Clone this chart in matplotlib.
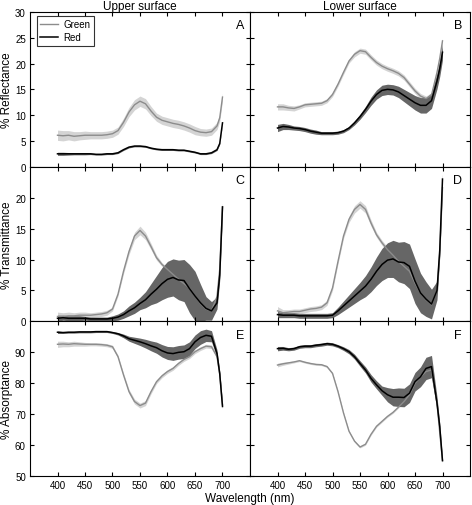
import matplotlib
matplotlib.use("Agg")
import matplotlib.pyplot as plt
import numpy as np

plt.rcParams['font.family'] = ['Liberation Sans', 'DejaVu Sans']

# ---------------- data ----------------
wavelength = [400, 410, 420, 430, 440, 450, 460, 470, 480, 490, 500, 510, 520, 530, 540,
              550, 560, 570, 580, 590, 600, 610, 620, 630, 640, 650, 660, 670, 680, 690, 695, 700]

# A: upper surface reflectance
A_green = [6.1, 6.0, 6.1, 5.9, 6.0, 6.1, 6.1, 6.1, 6.1, 6.2, 6.4, 7.0, 8.6, 10.6, 12.0,
           12.7, 12.2, 10.8, 9.6, 9.0, 8.7, 8.4, 8.2, 7.9, 7.5, 7.0, 6.7, 6.6, 6.8, 7.9, 9.5, 13.5]
A_green_err = [1.0, 1.0, 0.9, 0.9, 0.8, 0.8, 0.7, 0.7, 0.7, 0.7, 0.7, 0.7, 0.8, 0.9, 1.0,
               1.0, 1.0, 0.9, 0.8, 0.8, 0.8, 0.8, 0.8, 0.8, 0.8, 0.8, 0.7, 0.7, 0.7, 0.7, 0.7, 0.7]
A_red = [2.5, 2.5, 2.5, 2.5, 2.5, 2.5, 2.5, 2.4, 2.4, 2.5, 2.5, 2.7, 3.3, 3.8, 4.0,
         4.0, 3.9, 3.6, 3.4, 3.3, 3.3, 3.3, 3.2, 3.2, 3.0, 2.8, 2.5, 2.5, 2.7, 3.3, 4.5, 8.5]
A_red_err = [0.3, 0.3, 0.25, 0.2, 0.2, 0.2, 0.15, 0.15, 0.15, 0.15, 0.15, 0.15, 0.15, 0.15, 0.15,
             0.15, 0.15, 0.15, 0.15, 0.15, 0.15, 0.15, 0.15, 0.15, 0.15, 0.15, 0.15, 0.15, 0.15, 0.15, 0.15, 0.15]

# B: lower surface reflectance
B_green = [11.6, 11.6, 11.4, 11.3, 11.6, 12.0, 12.1, 12.2, 12.3, 12.8, 14.0, 16.0, 18.3, 20.5, 21.8,
           22.5, 22.3, 21.2, 20.2, 19.5, 19.0, 18.6, 18.1, 17.3, 16.0, 14.7, 13.7, 13.2, 13.9, 18.3, 21.0, 24.4]
B_green_err = [0.6, 0.6, 0.5, 0.5, 0.4, 0.4, 0.4, 0.4, 0.4, 0.4, 0.4, 0.4, 0.4, 0.4, 0.5,
               0.5, 0.5, 0.5, 0.5, 0.5, 0.5, 0.5, 0.5, 0.5, 0.5, 0.5, 0.5, 0.5, 0.5, 0.5, 0.5, 0.5]
B_red = [7.5, 7.8, 7.7, 7.5, 7.4, 7.2, 6.9, 6.7, 6.5, 6.5, 6.5, 6.6, 6.9, 7.5, 8.5,
         9.7, 11.1, 12.7, 14.0, 14.8, 15.0, 14.9, 14.5, 13.8, 13.1, 12.4, 11.9, 11.9, 12.8, 16.6, 19.0, 22.2]
B_red_err = [0.7, 0.6, 0.5, 0.4, 0.4, 0.4, 0.4, 0.4, 0.3, 0.3, 0.3, 0.3, 0.3, 0.3, 0.4,
             0.5, 0.6, 0.8, 0.9, 1.0, 1.0, 1.0, 1.1, 1.2, 1.3, 1.4, 1.5, 1.5, 1.5, 1.5, 1.5, 1.5]

# C: upper surface transmittance
C_green = [0.8, 0.8, 0.9, 0.9, 1.0, 1.0, 1.0, 1.1, 1.2, 1.4, 2.0, 4.4, 8.1, 11.3, 13.8,
           14.7, 13.8, 12.1, 10.3, 9.2, 8.4, 7.6, 6.8, 6.1, 5.4, 4.1, 2.9, 2.0, 1.7, 4.0, 8.5, 18.5]
C_green_err = [0.7, 0.6, 0.6, 0.5, 0.5, 0.5, 0.4, 0.4, 0.4, 0.4, 0.3, 0.3, 0.4, 0.5, 0.6,
               0.7, 0.6, 0.5, 0.4, 0.3, 0.3, 0.3, 0.3, 0.3, 0.3, 0.3, 0.3, 0.3, 0.3, 0.3, 0.3, 0.3]
C_red = [0.5, 0.6, 0.5, 0.5, 0.5, 0.5, 0.4, 0.4, 0.4, 0.4, 0.5, 0.7, 1.1, 1.7, 2.2,
         2.9, 3.5, 4.4, 5.2, 6.1, 6.8, 7.1, 6.7, 6.6, 5.3, 4.1, 3.0, 2.1, 1.7, 3.0, 7.5, 18.5]
C_red_err = [0.5, 0.4, 0.4, 0.4, 0.4, 0.3, 0.3, 0.3, 0.3, 0.3, 0.4, 0.5, 0.6, 0.8, 0.9,
             1.0, 1.3, 1.7, 2.2, 2.6, 2.9, 3.0, 3.2, 3.4, 3.9, 4.0, 3.0, 1.9, 1.5, 1.0, 0.8, 0.6]

# D: lower surface transmittance
D_green = [1.7, 1.4, 1.5, 1.6, 1.6, 1.8, 2.0, 2.1, 2.3, 3.0, 5.4, 9.7, 13.8, 16.5, 18.1,
           18.9, 18.1, 15.9, 14.0, 12.7, 11.6, 10.7, 9.7, 8.9, 8.1, 6.2, 4.6, 3.5, 2.7, 5.0, 11.0, 21.6]
D_green_err = [0.7, 0.5, 0.4, 0.4, 0.4, 0.4, 0.4, 0.4, 0.4, 0.4, 0.4, 0.4, 0.4, 0.5, 0.6,
               0.6, 0.6, 0.5, 0.4, 0.4, 0.4, 0.4, 0.4, 0.4, 0.4, 0.4, 0.4, 0.4, 0.4, 0.4, 0.4, 0.4]
D_red = [1.1, 1.0, 1.0, 1.0, 0.9, 0.9, 0.9, 0.9, 0.9, 0.9, 1.0, 1.7, 2.5, 3.3, 4.1,
         4.9, 5.7, 6.8, 8.1, 9.2, 9.9, 10.1, 9.6, 9.5, 8.9, 6.5, 4.6, 3.6, 2.8, 5.0, 11.5, 23.0]
D_red_err = [0.5, 0.4, 0.4, 0.4, 0.4, 0.4, 0.4, 0.4, 0.4, 0.4, 0.4, 0.6, 0.8, 1.0, 1.2,
             1.4, 1.7, 2.0, 2.3, 2.6, 2.8, 3.0, 3.2, 3.4, 3.6, 3.6, 3.2, 2.8, 2.4, 1.5, 1.0, 0.8]

# E: upper surface absorptance
E_green = [92.6, 92.7, 92.6, 92.8, 92.7, 92.6, 92.6, 92.6, 92.5, 92.3, 91.8, 88.6, 82.7, 77.3, 74.1,
           72.8, 73.6, 77.3, 80.5, 82.4, 83.8, 84.8, 86.4, 87.7, 88.6, 90.2, 91.2, 92.0, 91.8, 88.6, 83.0, 73.0]
E_green_err = [1.0, 0.9, 0.8, 0.8, 0.7, 0.6, 0.5, 0.5, 0.5, 0.5, 0.5, 0.5, 0.6, 0.7, 0.8,
               0.8, 0.8, 0.7, 0.6, 0.6, 0.6, 0.6, 0.6, 0.6, 0.6, 0.6, 0.6, 0.6, 0.6, 0.6, 0.6, 0.6]
E_red = [96.5, 96.4, 96.5, 96.5, 96.6, 96.6, 96.6, 96.7, 96.7, 96.7, 96.4, 96.0, 95.3, 94.4, 93.9,
         93.4, 92.8, 92.1, 91.5, 90.5, 89.8, 89.6, 90.0, 90.2, 91.2, 93.4, 94.8, 95.5, 95.2, 89.6, 83.0, 72.5]
E_red_err = [0.4, 0.3, 0.3, 0.3, 0.3, 0.3, 0.3, 0.3, 0.3, 0.3, 0.3, 0.4, 0.6, 0.8, 1.0,
             1.2, 1.4, 1.6, 1.8, 2.0, 2.1, 2.2, 2.2, 2.2, 2.2, 2.2, 2.2, 2.0, 1.8, 1.2, 0.8, 0.6]

# F: lower surface absorptance
F_green = [85.9, 86.3, 86.6, 86.9, 87.3, 86.8, 86.4, 86.1, 86.0, 85.4, 83.2, 77.3, 70.4, 64.5, 61.3,
           59.4, 60.3, 63.5, 66.1, 67.7, 69.3, 70.6, 72.3, 74.1, 76.3, 80.0, 82.1, 83.8, 84.3, 73.5, 64.0, 55.0]
F_green_err = [0.6, 0.5, 0.4, 0.3, 0.3, 0.3, 0.3, 0.3, 0.3, 0.3, 0.3, 0.3, 0.3, 0.3, 0.3,
               0.3, 0.3, 0.3, 0.3, 0.3, 0.3, 0.3, 0.3, 0.3, 0.3, 0.3, 0.3, 0.3, 0.3, 0.3, 0.3, 0.3]
F_red = [91.2, 91.3, 91.0, 91.2, 91.8, 92.0, 92.0, 92.3, 92.5, 92.8, 92.6, 92.0, 91.2, 90.2, 88.6,
         86.4, 84.3, 81.6, 79.5, 77.6, 76.3, 75.5, 75.5, 75.4, 76.8, 80.5, 82.1, 84.8, 85.4, 73.6, 66.0, 55.0]
F_red_err = [0.7, 0.6, 0.5, 0.5, 0.5, 0.5, 0.5, 0.5, 0.5, 0.5, 0.5, 0.5, 0.6, 0.7, 0.8,
             0.9, 1.0, 1.2, 1.3, 1.5, 2.3, 2.8, 3.0, 3.0, 3.0, 3.0, 3.2, 3.6, 3.6, 2.0, 1.0, 0.6]

panel_letters = ['A', 'B', 'C', 'D', 'E', 'F']
column_titles = ['Upper surface', 'Lower surface']
row_labels = ['% Reflectance', '% Transmittance', '% Absorptance']
row_limits = [(0, 30), (0, 25), (50, 100)]
row_ticks = [[0, 5, 10, 15, 20, 25, 30], [0, 5, 10, 15, 20], [50, 60, 70, 80, 90]]
x_ticks = [400, 450, 500, 550, 600, 650, 700]
series_labels = ['Green', 'Red']

panels = [
    (A_green, A_green_err, A_red, A_red_err),
    (B_green, B_green_err, B_red, B_red_err),
    (C_green, C_green_err, C_red, C_red_err),
    (D_green, D_green_err, D_red, D_red_err),
    (E_green, E_green_err, E_red, E_red_err),
    (F_green, F_green_err, F_red, F_red_err),
]

# ---------------- figure ----------------
W, H = 472, 506
fig = plt.figure(figsize=(W / 100, H / 100), dpi=100)

left_px = [30, 250]
ax_w_px = 220
top_px = 13
row_h_px = 154.7

green_line = '#8c8c8c'
green_band = '#d4d4d4'
red_line = '#000000'
red_band = '#666666'

wl = np.array(wavelength)
for i, (g, ge, r, re) in enumerate(panels):
    row, col = divmod(i, 2)
    x0 = left_px[col] / W
    y0 = 1 - (top_px + (row + 1) * row_h_px) / H
    ax = fig.add_axes([x0, y0, ax_w_px / W, row_h_px / H])
    g = np.array(g); ge = np.array(ge); r = np.array(r); re = np.array(re)
    ax.fill_between(wl, g - ge, g + ge, color=green_band, lw=0)
    ax.fill_between(wl, r - re, r + re, color=red_band, lw=0)
    ax.plot(wl, g, color=green_line, lw=1.0, label=series_labels[0])
    ax.plot(wl, r, color=red_line, lw=1.1, label=series_labels[1])
    ax.set_xlim(350, 750)
    ax.set_ylim(*row_limits[row])
    ax.set_xticks(x_ticks)
    ax.set_yticks(row_ticks[row])
    ax.tick_params(direction='in', top=True, right=True, length=3, width=0.8,
                   labelsize=7, pad=3)
    for s in ax.spines.values():
        s.set_linewidth(0.8)
    if row < 2:
        ax.tick_params(labelbottom=False)
    if col == 1:
        ax.tick_params(labelleft=False)
    if row == 0:
        ax.set_title(column_titles[col], fontsize=8.5, pad=2)
    ax.text(0.955 if col == 0 else 0.945, 0.915, panel_letters[i], transform=ax.transAxes,
            fontsize=9, ha='center', va='center')
    if i == 0:
        leg = ax.legend(loc='upper left', bbox_to_anchor=(0.03, 0.975), borderaxespad=0,
                        fontsize=7, frameon=True, fancybox=False, edgecolor='black',
                        handlelength=1.8, borderpad=0.35, labelspacing=0.3, handletextpad=0.6)
        leg.get_frame().set_linewidth(0.8)

for row in range(3):
    yc = 1 - (top_px + (row + 0.5) * row_h_px) / H
    fig.text(7 / W, yc, row_labels[row], rotation=90, ha='center', va='center', fontsize=8.5)

fig.text(250 / W, 1 - 499 / H, 'Wavelength (nm)', ha='center', va='center', fontsize=8.5)

fig.savefig('out.png', dpi=100)
